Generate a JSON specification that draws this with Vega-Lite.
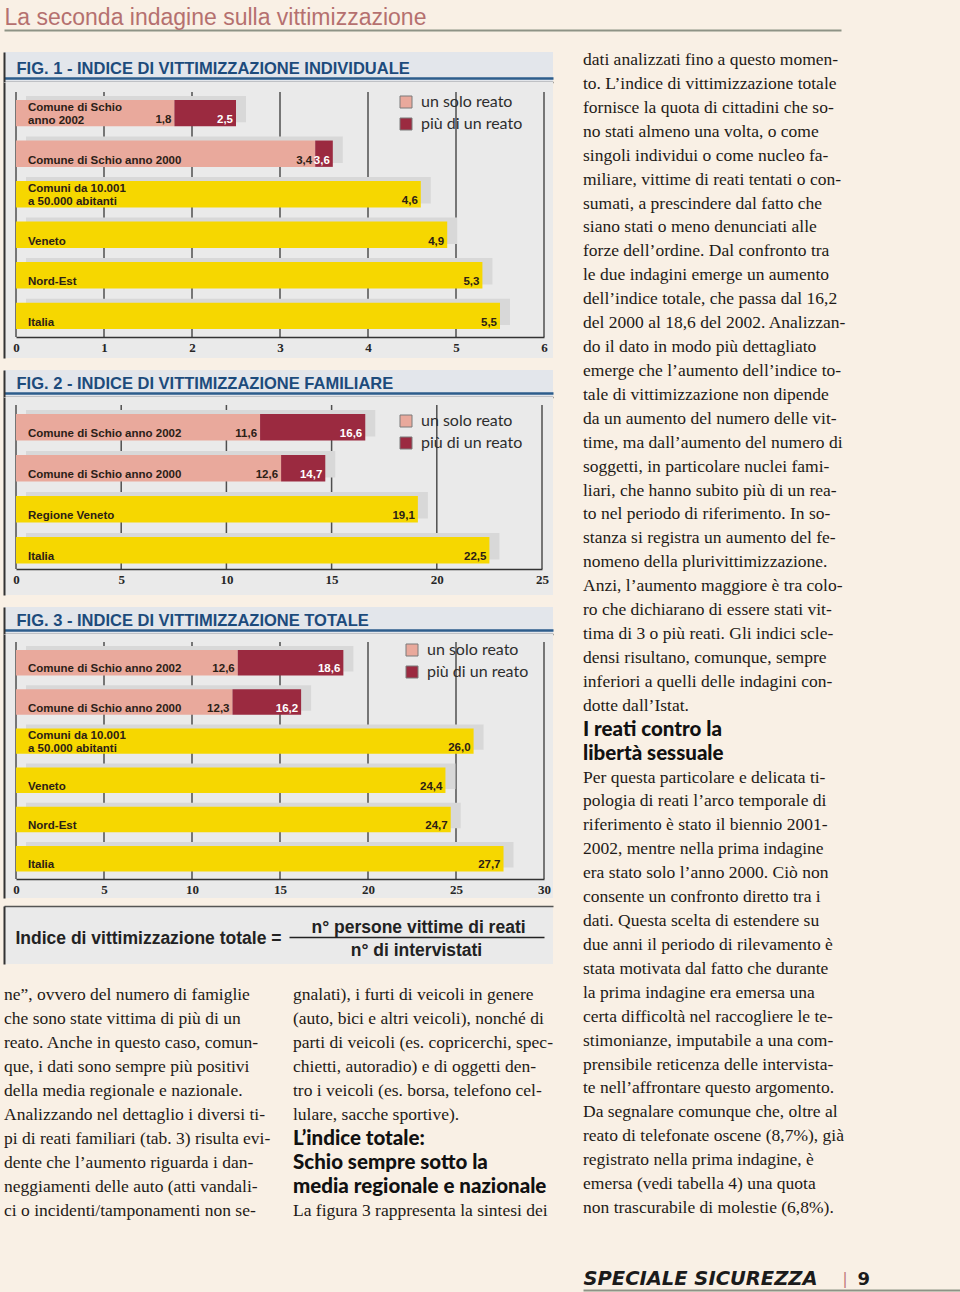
{
  "$schema": "https://vega.github.io/schema/vega-lite/v6.json",
  "background": "#f9f0e5",
  "padding": {"left": 1, "top": 0, "right": 0, "bottom": 0},
  "config": {
    "view": {"stroke": null},
    "locale": {"number": {"decimal": ",", "thousands": ".", "grouping": [3], "currency": ["€", ""]}},
    "axis": {"domainCap": "butt"}
  },
  "datasets": {
    "fig1": [
      {"area": "Comune di Schio\nanno 2002", "serie": "un solo reato", "da": 0, "a": 1.8},
      {"area": "Comune di Schio\nanno 2002", "serie": "più di un reato", "da": 1.8, "a": 2.5},
      {"area": "Comune di Schio anno 2000", "serie": "un solo reato", "da": 0, "a": 3.4},
      {"area": "Comune di Schio anno 2000", "serie": "più di un reato", "da": 3.4, "a": 3.6},
      {"area": "Comuni da 10.001\na 50.000 abitanti", "serie": "totale", "da": 0, "a": 4.6},
      {"area": "Veneto", "serie": "totale", "da": 0, "a": 4.9},
      {"area": "Nord-Est", "serie": "totale", "da": 0, "a": 5.3},
      {"area": "Italia", "serie": "totale", "da": 0, "a": 5.5}
    ],
    "fig2": [
      {"area": "Comune di Schio anno 2002", "serie": "un solo reato", "da": 0, "a": 11.6},
      {"area": "Comune di Schio anno 2002", "serie": "più di un reato", "da": 11.6, "a": 16.6},
      {"area": "Comune di Schio anno 2000", "serie": "un solo reato", "da": 0, "a": 12.6},
      {"area": "Comune di Schio anno 2000", "serie": "più di un reato", "da": 12.6, "a": 14.7},
      {"area": "Regione Veneto", "serie": "totale", "da": 0, "a": 19.1},
      {"area": "Italia", "serie": "totale", "da": 0, "a": 22.5}
    ],
    "fig3": [
      {"area": "Comune di Schio anno 2002", "serie": "un solo reato", "da": 0, "a": 12.6},
      {"area": "Comune di Schio anno 2002", "serie": "più di un reato", "da": 12.6, "a": 18.6},
      {"area": "Comune di Schio anno 2000", "serie": "un solo reato", "da": 0, "a": 12.3},
      {"area": "Comune di Schio anno 2000", "serie": "più di un reato", "da": 12.3, "a": 16.2},
      {"area": "Comuni da 10.001\na 50.000 abitanti", "serie": "totale", "da": 0, "a": 26.0},
      {"area": "Veneto", "serie": "totale", "da": 0, "a": 24.4},
      {"area": "Nord-Est", "serie": "totale", "da": 0, "a": 24.7},
      {"area": "Italia", "serie": "totale", "da": 0, "a": 27.7}
    ],
    "colonneBasse": [
      {"colonna": "sinistra", "riga": 1, "tipo": "testo", "testo": "ne”, ovvero del numero di famiglie"},
      {"colonna": "sinistra", "riga": 2, "tipo": "testo", "testo": "che sono state vittima di più di un"},
      {"colonna": "sinistra", "riga": 3, "tipo": "testo", "testo": "reato. Anche in questo caso, comun-"},
      {"colonna": "sinistra", "riga": 4, "tipo": "testo", "testo": "que, i dati sono sempre più positivi"},
      {"colonna": "sinistra", "riga": 5, "tipo": "testo", "testo": "della media regionale e nazionale."},
      {"colonna": "sinistra", "riga": 6, "tipo": "testo", "testo": "Analizzando nel dettaglio i diversi ti-"},
      {"colonna": "sinistra", "riga": 7, "tipo": "testo", "testo": "pi di reati familiari (tab. 3) risulta evi-"},
      {"colonna": "sinistra", "riga": 8, "tipo": "testo", "testo": "dente che l’aumento riguarda i dan-"},
      {"colonna": "sinistra", "riga": 9, "tipo": "testo", "testo": "neggiamenti delle auto (atti vandali-"},
      {"colonna": "sinistra", "riga": 10, "tipo": "testo", "testo": "ci o incidenti/tamponamenti non se-"},
      {"colonna": "centro", "riga": 1, "tipo": "testo", "testo": "gnalati), i furti di veicoli in genere"},
      {"colonna": "centro", "riga": 2, "tipo": "testo", "testo": "(auto, bici e altri veicoli), nonché di"},
      {"colonna": "centro", "riga": 3, "tipo": "testo", "testo": "parti di veicoli (es. copricerchi, spec-"},
      {"colonna": "centro", "riga": 4, "tipo": "testo", "testo": "chietti, autoradio) e di oggetti den-"},
      {"colonna": "centro", "riga": 5, "tipo": "testo", "testo": "tro i veicoli (es. borsa, telefono cel-"},
      {"colonna": "centro", "riga": 6, "tipo": "testo", "testo": "lulare, sacche sportive)."},
      {"colonna": "centro", "riga": 7, "tipo": "titolo", "testo": "L’indice totale:"},
      {"colonna": "centro", "riga": 8, "tipo": "titolo", "testo": "Schio sempre sotto la"},
      {"colonna": "centro", "riga": 9, "tipo": "titolo", "testo": "media regionale e nazionale"},
      {"colonna": "centro", "riga": 10, "tipo": "testo", "testo": "La figura 3 rappresenta la sintesi dei"}
    ],
    "colonnaDestra": [
      {"riga": 1, "tipo": "testo", "testo": "dati analizzati fino a questo momen-"},
      {"riga": 2, "tipo": "testo", "testo": "to. L’indice di vittimizzazione totale"},
      {"riga": 3, "tipo": "testo", "testo": "fornisce la quota di cittadini che so-"},
      {"riga": 4, "tipo": "testo", "testo": "no stati almeno una volta, o come"},
      {"riga": 5, "tipo": "testo", "testo": "singoli individui o come nucleo fa-"},
      {"riga": 6, "tipo": "testo", "testo": "miliare, vittime di reati tentati o con-"},
      {"riga": 7, "tipo": "testo", "testo": "sumati, a prescindere dal fatto che"},
      {"riga": 8, "tipo": "testo", "testo": "siano stati o meno denunciati alle"},
      {"riga": 9, "tipo": "testo", "testo": "forze dell’ordine. Dal confronto tra"},
      {"riga": 10, "tipo": "testo", "testo": "le due indagini emerge un aumento"},
      {"riga": 11, "tipo": "testo", "testo": "dell’indice totale, che passa dal 16,2"},
      {"riga": 12, "tipo": "testo", "testo": "del 2000 al 18,6 del 2002. Analizzan-"},
      {"riga": 13, "tipo": "testo", "testo": "do il dato in modo più dettagliato"},
      {"riga": 14, "tipo": "testo", "testo": "emerge che l’aumento dell’indice to-"},
      {"riga": 15, "tipo": "testo", "testo": "tale di vittimizzazione non dipende"},
      {"riga": 16, "tipo": "testo", "testo": "da un aumento del numero delle vit-"},
      {"riga": 17, "tipo": "testo", "testo": "time, ma dall’aumento del numero di"},
      {"riga": 18, "tipo": "testo", "testo": "soggetti, in particolare nuclei fami-"},
      {"riga": 19, "tipo": "testo", "testo": "liari, che hanno subito più di un rea-"},
      {"riga": 20, "tipo": "testo", "testo": "to nel periodo di riferimento. In so-"},
      {"riga": 21, "tipo": "testo", "testo": "stanza si registra un aumento del fe-"},
      {"riga": 22, "tipo": "testo", "testo": "nomeno della plurivittimizzazione."},
      {"riga": 23, "tipo": "testo", "testo": "Anzi, l’aumento maggiore è tra colo-"},
      {"riga": 24, "tipo": "testo", "testo": "ro che dichiarano di essere stati vit-"},
      {"riga": 25, "tipo": "testo", "testo": "tima di 3 o più reati. Gli indici scle-"},
      {"riga": 26, "tipo": "testo", "testo": "densi risultano, comunque, sempre"},
      {"riga": 27, "tipo": "testo", "testo": "inferiori a quelli delle indagini con-"},
      {"riga": 28, "tipo": "testo", "testo": "dotte dall’Istat."},
      {"riga": 29, "tipo": "titolo", "testo": "I reati contro la"},
      {"riga": 30, "tipo": "titolo", "testo": "libertà sessuale"},
      {"riga": 31, "tipo": "testo", "testo": "Per questa particolare e delicata ti-"},
      {"riga": 32, "tipo": "testo", "testo": "pologia di reati l’arco temporale di"},
      {"riga": 33, "tipo": "testo", "testo": "riferimento è stato il biennio 2001-"},
      {"riga": 34, "tipo": "testo", "testo": "2002, mentre nella prima indagine"},
      {"riga": 35, "tipo": "testo", "testo": "era stato solo l’anno 2000. Ciò non"},
      {"riga": 36, "tipo": "testo", "testo": "consente un confronto diretto tra i"},
      {"riga": 37, "tipo": "testo", "testo": "dati. Questa scelta di estendere su"},
      {"riga": 38, "tipo": "testo", "testo": "due anni il periodo di rilevamento è"},
      {"riga": 39, "tipo": "testo", "testo": "stata motivata dal fatto che durante"},
      {"riga": 40, "tipo": "testo", "testo": "la prima indagine era emersa una"},
      {"riga": 41, "tipo": "testo", "testo": "certa difficoltà nel raccogliere le te-"},
      {"riga": 42, "tipo": "testo", "testo": "stimonianze, imputabile a una com-"},
      {"riga": 43, "tipo": "testo", "testo": "prensibile reticenza delle intervista-"},
      {"riga": 44, "tipo": "testo", "testo": "te nell’affrontare questo argomento."},
      {"riga": 45, "tipo": "testo", "testo": "Da segnalare comunque che, oltre al"},
      {"riga": 46, "tipo": "testo", "testo": "reato di telefonate oscene (8,7%), già"},
      {"riga": 47, "tipo": "testo", "testo": "registrato nella prima indagine, è"},
      {"riga": 48, "tipo": "testo", "testo": "emersa (vedi tabella 4) una quota"},
      {"riga": 49, "tipo": "testo", "testo": "non trascurabile di molestie (6,8%)."}
    ]
  },
  "spacing": 21,
  "resolve": {"scale": {"color": "independent"}, "legend": {"color": "independent"}},
  "vconcat": [
    {
      "width": 837, "height": 30,
      "data": {"values": [{}]},
      "mark": {"type": "point", "opacity": 0},
      "encoding": {
        "x": {"datum": 0, "type": "quantitative", "scale": {"domain": [0, 1]},
          "axis": {"orient": "bottom", "domain": true, "domainColor": "#8e9386", "domainWidth": 2, "ticks": false, "labels": false, "grid": false,
            "title": "La seconda indagine sulla vittimizzazione", "titleX": 0, "titleY": -6, "titleAlign": "left", "titleBaseline": "alphabetic",
            "titleFont": "Liberation Sans", "titleFontSize": 23, "titleFontWeight": "normal", "titleColor": "#b5706f"}}
      }
    },
    {
      "spacing": 27,
      "resolve": {"scale": {"color": "independent"}, "legend": {"color": "independent"}},
      "hconcat": [
        {
          "spacing": 12,
          "resolve": {"scale": {"color": "independent"}, "legend": {"color": "independent"}},
          "vconcat": [
            {
              "spacing": 0, "bounds": "flush",
              "resolve": {"scale": {"color": "independent"}, "legend": {"color": "independent"}},
              "vconcat": [
                {
                  "width": 549, "height": 30,
                  "view": {"fill": "#e3e6eb", "stroke": null},
                  "data": {"values": [{}]},
                  "resolve": {"scale": {"x": "independent"}, "axis": {"x": "independent"}},
                  "layer": [
                    {"mark": {"type": "point", "opacity": 0},
                     "encoding": {
                       "x": {"datum": 0, "type": "quantitative", "scale": {"domain": [0, 1]},
                         "axis": {"orient": "bottom", "offset": -4, "domainColor": "#2d5d8c", "domainWidth": 2.5, "ticks": false, "labels": false, "grid": false,
                           "title": "FIG. 1 - INDICE DI VITTIMIZZAZIONE INDIVIDUALE", "titleX": 12, "titleY": -5, "titleAlign": "left", "titleBaseline": "alphabetic",
                           "titleFont": "Liberation Sans", "titleFontSize": 16.5, "titleFontWeight": "bold", "titleColor": "#1d4b7c"}},
                       "y": {"datum": 0, "type": "quantitative", "scale": {"domain": [0, 1]},
                         "axis": {"orient": "left", "domainColor": "#333333", "domainWidth": 2, "ticks": false, "labels": false, "grid": false, "title": null}}
                     }},
                    {"mark": {"type": "point", "opacity": 0},
                     "encoding": {
                       "x": {"datum": 0, "type": "quantitative", "scale": {"domain": [0, 1]},
                         "axis": {"orient": "bottom", "domainColor": "#555555", "domainWidth": 1.5, "ticks": false, "labels": false, "grid": false, "title": null}}
                     }}
                  ]
                },
                {
                  "width": 549, "height": 276,
                  "view": {"fill": "#eaeaea", "stroke": null},
                  "data": {"name": "fig1"},
                  "resolve": {"scale": {"y": "independent"}, "axis": {"y": "independent"}},
                  "layer": [
                    {
                      "data": {"values": [{"t": 0}, {"t": 1}, {"t": 2}, {"t": 3}, {"t": 4}, {"t": 5}, {"t": 6}]},
                      "mark": {"type": "rule", "color": "#4f4f4f", "strokeWidth": 1.5},
                      "encoding": {
                        "x": {"field": "t", "type": "quantitative", "scale": {"domain": [0, 6], "range": [12, 540], "nice": false, "zero": false}},
                        "y": {"datum": 0, "type": "quantitative", "scale": {"domain": [0, 1], "range": [255, 10]}, "axis": null},
                        "y2": {"datum": 1}
                      }
                    },
                    {
                      "transform": [{"filter": "datum.serie !== 'un solo reato'"}],
                      "mark": {"type": "bar", "color": "#d8d8d8", "xOffset": 10, "x2Offset": 10, "yOffset": -4},
                      "encoding": {
                        "x": {"field": "a", "type": "quantitative", "scale": {"domain": [0, 6], "range": [12, 540], "nice": false, "zero": false}},
                        "y": {"field": "area", "type": "nominal", "sort": null, "scale": {"type": "band", "domain": ["Comune di Schio\nanno 2002", "Comune di Schio anno 2000", "Comuni da 10.001\na 50.000 abitanti", "Veneto", "Nord-Est", "Italia"], "paddingInner": 0.35, "paddingOuter": 0.58, "align": 0.383}, "axis": null}
                      }
                    },
                    {
                      "mark": {"type": "bar"},
                      "encoding": {
                        "x": {"field": "da", "type": "quantitative", "scale": {"domain": [0, 6], "range": [12, 540], "nice": false, "zero": false},
                          "axis": {"orient": "bottom", "offset": -21, "values": [0, 1, 2, 3, 4, 5, 6], "format": "d", "domain": true, "labels": true, "domainColor": "#333333", "domainWidth": 1.5, "ticks": false, "grid": false, "title": null, "zindex": 1,
                            "labelFont": "Liberation Serif", "labelFontSize": 13, "labelFontWeight": "bold", "labelColor": "#262626", "labelPadding": 4, "labelFlush": false, "labelOverlap": false}},
                        "x2": {"field": "a"},
                        "y": {"field": "area", "type": "nominal", "sort": null, "scale": {"type": "band", "domain": ["Comune di Schio\nanno 2002", "Comune di Schio anno 2000", "Comuni da 10.001\na 50.000 abitanti", "Veneto", "Nord-Est", "Italia"], "paddingInner": 0.35, "paddingOuter": 0.58, "align": 0.383},
                          "axis": {"orient": "left", "domain": true, "domainColor": "#333333", "domainWidth": 2, "ticks": false, "labels": false, "grid": false, "title": null, "zindex": 1}},
                        "color": {"field": "serie", "type": "nominal",
                          "scale": {"domain": ["un solo reato", "più di un reato", "totale"], "range": ["#e9a99c", "#9b2a40", "#f6d700"]},
                          "legend": {"values": ["un solo reato", "più di un reato"], "title": null, "orient": "none", "legendX": 394, "legendY": 12,
                            "symbolType": "square", "symbolSize": 144, "symbolStrokeColor": "#7a7a7a", "symbolStrokeWidth": 1, "symbolOpacity": 1,
                            "labelFont": "Lato", "labelFontSize": 16, "labelColor": "#2e2e2e", "labelOffset": 7, "rowPadding": 6,
                            "encode": {"symbols": {"update": {"stroke": {"value": "#7a7a7a"}, "strokeWidth": {"value": 1}}}}}}
                      }
                    },
                    {
                      "transform": [{"filter": "datum.da === 0 && indexof(datum.area, '\\n') < 0"}],
                      "mark": {"type": "text", "align": "left", "baseline": "bottom", "dx": 12, "dy": -1, "font": "Liberation Sans", "fontSize": 11.5, "fontWeight": "bold", "color": "#2b2016"},
                      "encoding": {
                        "x": {"field": "da", "type": "quantitative", "scale": {"domain": [0, 6], "range": [12, 540], "nice": false, "zero": false}},
                        "y": {"field": "area", "type": "nominal", "sort": null, "bandPosition": 1, "scale": {"type": "band", "domain": ["Comune di Schio\nanno 2002", "Comune di Schio anno 2000", "Comuni da 10.001\na 50.000 abitanti", "Veneto", "Nord-Est", "Italia"], "paddingInner": 0.35, "paddingOuter": 0.58, "align": 0.383}, "axis": null},
                        "text": {"field": "area"}
                      }
                    },
                    {
                      "transform": [{"filter": "datum.da === 0 && indexof(datum.area, '\\n') >= 0"}],
                      "mark": {"type": "text", "align": "left", "baseline": "bottom", "dx": 12, "dy": -13, "lineBreak": "\n", "lineHeight": 13, "font": "Liberation Sans", "fontSize": 11.5, "fontWeight": "bold", "color": "#2b2016"},
                      "encoding": {
                        "x": {"field": "da", "type": "quantitative", "scale": {"domain": [0, 6], "range": [12, 540], "nice": false, "zero": false}},
                        "y": {"field": "area", "type": "nominal", "sort": null, "bandPosition": 1, "scale": {"type": "band", "domain": ["Comune di Schio\nanno 2002", "Comune di Schio anno 2000", "Comuni da 10.001\na 50.000 abitanti", "Veneto", "Nord-Est", "Italia"], "paddingInner": 0.35, "paddingOuter": 0.58, "align": 0.383}, "axis": null},
                        "text": {"field": "area"}
                      }
                    },
                    {
                      "mark": {"type": "text", "align": "right", "baseline": "bottom", "dx": -3, "dy": -1, "font": "Liberation Sans", "fontSize": 11.5, "fontWeight": "bold"},
                      "encoding": {
                        "x": {"field": "a", "type": "quantitative", "scale": {"domain": [0, 6], "range": [12, 540], "nice": false, "zero": false}},
                        "y": {"field": "area", "type": "nominal", "sort": null, "bandPosition": 1, "scale": {"type": "band", "domain": ["Comune di Schio\nanno 2002", "Comune di Schio anno 2000", "Comuni da 10.001\na 50.000 abitanti", "Veneto", "Nord-Est", "Italia"], "paddingInner": 0.35, "paddingOuter": 0.58, "align": 0.383}, "axis": null},
                        "text": {"field": "a", "type": "quantitative", "format": ".1f"},
                        "color": {"condition": {"test": "datum.serie === 'più di un reato'", "value": "#ffffff"}, "value": "#2b2016"}
                      }
                    }
                  ]
                }
              ]
            },
            {
              "spacing": 0, "bounds": "flush",
              "resolve": {"scale": {"color": "independent"}, "legend": {"color": "independent"}},
              "vconcat": [
                {
                  "width": 549, "height": 27,
                  "view": {"fill": "#e3e6eb", "stroke": null},
                  "data": {"values": [{}]},
                  "resolve": {"scale": {"x": "independent"}, "axis": {"x": "independent"}},
                  "layer": [
                    {"mark": {"type": "point", "opacity": 0},
                     "encoding": {
                       "x": {"datum": 0, "type": "quantitative", "scale": {"domain": [0, 1]},
                         "axis": {"orient": "bottom", "offset": -4, "domainColor": "#2d5d8c", "domainWidth": 2.5, "ticks": false, "labels": false, "grid": false,
                           "title": "FIG. 2 - INDICE DI VITTIMIZZAZIONE FAMILIARE", "titleX": 12, "titleY": -5, "titleAlign": "left", "titleBaseline": "alphabetic",
                           "titleFont": "Liberation Sans", "titleFontSize": 16.5, "titleFontWeight": "bold", "titleColor": "#1d4b7c"}},
                       "y": {"datum": 0, "type": "quantitative", "scale": {"domain": [0, 1]},
                         "axis": {"orient": "left", "domainColor": "#333333", "domainWidth": 2, "ticks": false, "labels": false, "grid": false, "title": null}}
                     }},
                    {"mark": {"type": "point", "opacity": 0},
                     "encoding": {
                       "x": {"datum": 0, "type": "quantitative", "scale": {"domain": [0, 1]},
                         "axis": {"orient": "bottom", "domainColor": "#555555", "domainWidth": 1.5, "ticks": false, "labels": false, "grid": false, "title": null}}
                     }}
                  ]
                },
                {
                  "width": 549, "height": 198,
                  "view": {"fill": "#eaeaea", "stroke": null},
                  "data": {"name": "fig2"},
                  "resolve": {"scale": {"y": "independent"}, "axis": {"y": "independent"}},
                  "layer": [
                    {
                      "data": {"values": [{"t": 0}, {"t": 5}, {"t": 10}, {"t": 15}, {"t": 20}, {"t": 25}]},
                      "mark": {"type": "rule", "color": "#4f4f4f", "strokeWidth": 1.5},
                      "encoding": {
                        "x": {"field": "t", "type": "quantitative", "scale": {"domain": [0, 25], "range": [12, 538], "nice": false, "zero": false}},
                        "y": {"datum": 0, "type": "quantitative", "scale": {"domain": [0, 1], "range": [172, 8]}, "axis": null},
                        "y2": {"datum": 1}
                      }
                    },
                    {
                      "transform": [{"filter": "datum.serie !== 'un solo reato'"}],
                      "mark": {"type": "bar", "color": "#d8d8d8", "xOffset": 10, "x2Offset": 10, "yOffset": -4},
                      "encoding": {
                        "x": {"field": "a", "type": "quantitative", "scale": {"domain": [0, 25], "range": [12, 538], "nice": false, "zero": false}},
                        "y": {"field": "area", "type": "nominal", "sort": null, "scale": {"type": "band", "domain": ["Comune di Schio anno 2002", "Comune di Schio anno 2000", "Regione Veneto", "Italia"], "paddingInner": 0.354, "paddingOuter": 0.591, "align": 0.35}, "axis": null}
                      }
                    },
                    {
                      "mark": {"type": "bar"},
                      "encoding": {
                        "x": {"field": "da", "type": "quantitative", "scale": {"domain": [0, 25], "range": [12, 538], "nice": false, "zero": false},
                          "axis": {"orient": "bottom", "offset": -26, "values": [0, 5, 10, 15, 20, 25], "format": "d", "domain": true, "labels": true, "domainColor": "#333333", "domainWidth": 1.5, "ticks": false, "grid": false, "title": null, "zindex": 1,
                            "labelFont": "Liberation Serif", "labelFontSize": 13, "labelFontWeight": "bold", "labelColor": "#262626", "labelPadding": 4, "labelFlush": false, "labelOverlap": false}},
                        "x2": {"field": "a"},
                        "y": {"field": "area", "type": "nominal", "sort": null, "scale": {"type": "band", "domain": ["Comune di Schio anno 2002", "Comune di Schio anno 2000", "Regione Veneto", "Italia"], "paddingInner": 0.354, "paddingOuter": 0.591, "align": 0.35},
                          "axis": {"orient": "left", "domain": true, "domainColor": "#333333", "domainWidth": 2, "ticks": false, "labels": false, "grid": false, "title": null, "zindex": 1}},
                        "color": {"field": "serie", "type": "nominal",
                          "scale": {"domain": ["un solo reato", "più di un reato", "totale"], "range": ["#e9a99c", "#9b2a40", "#f6d700"]},
                          "legend": {"values": ["un solo reato", "più di un reato"], "title": null, "orient": "none", "legendX": 394, "legendY": 16,
                            "symbolType": "square", "symbolSize": 144, "symbolStrokeColor": "#7a7a7a", "symbolStrokeWidth": 1, "symbolOpacity": 1,
                            "labelFont": "Lato", "labelFontSize": 16, "labelColor": "#2e2e2e", "labelOffset": 7, "rowPadding": 6,
                            "encode": {"symbols": {"update": {"stroke": {"value": "#7a7a7a"}, "strokeWidth": {"value": 1}}}}}}
                      }
                    },
                    {
                      "transform": [{"filter": "datum.da === 0"}],
                      "mark": {"type": "text", "align": "left", "baseline": "bottom", "dx": 12, "dy": -1, "font": "Liberation Sans", "fontSize": 11.5, "fontWeight": "bold", "color": "#2b2016"},
                      "encoding": {
                        "x": {"field": "da", "type": "quantitative", "scale": {"domain": [0, 25], "range": [12, 538], "nice": false, "zero": false}},
                        "y": {"field": "area", "type": "nominal", "sort": null, "bandPosition": 1, "scale": {"type": "band", "domain": ["Comune di Schio anno 2002", "Comune di Schio anno 2000", "Regione Veneto", "Italia"], "paddingInner": 0.354, "paddingOuter": 0.591, "align": 0.35}, "axis": null},
                        "text": {"field": "area"}
                      }
                    },
                    {
                      "mark": {"type": "text", "align": "right", "baseline": "bottom", "dx": -3, "dy": -1, "font": "Liberation Sans", "fontSize": 11.5, "fontWeight": "bold"},
                      "encoding": {
                        "x": {"field": "a", "type": "quantitative", "scale": {"domain": [0, 25], "range": [12, 538], "nice": false, "zero": false}},
                        "y": {"field": "area", "type": "nominal", "sort": null, "bandPosition": 1, "scale": {"type": "band", "domain": ["Comune di Schio anno 2002", "Comune di Schio anno 2000", "Regione Veneto", "Italia"], "paddingInner": 0.354, "paddingOuter": 0.591, "align": 0.35}, "axis": null},
                        "text": {"field": "a", "type": "quantitative", "format": ".1f"},
                        "color": {"condition": {"test": "datum.serie === 'più di un reato'", "value": "#ffffff"}, "value": "#2b2016"}
                      }
                    }
                  ]
                }
              ]
            },
            {
              "spacing": 8,
              "resolve": {"scale": {"color": "independent"}, "legend": {"color": "independent"}},
              "vconcat": [
                {
                  "spacing": 0, "bounds": "flush",
                  "resolve": {"scale": {"color": "independent"}, "legend": {"color": "independent"}},
                  "vconcat": [
                    {
                      "width": 549, "height": 27,
                      "view": {"fill": "#e3e6eb", "stroke": null},
                      "data": {"values": [{}]},
                      "resolve": {"scale": {"x": "independent"}, "axis": {"x": "independent"}},
                      "layer": [
                        {"mark": {"type": "point", "opacity": 0},
                         "encoding": {
                           "x": {"datum": 0, "type": "quantitative", "scale": {"domain": [0, 1]},
                             "axis": {"orient": "bottom", "offset": -4, "domainColor": "#2d5d8c", "domainWidth": 2.5, "ticks": false, "labels": false, "grid": false,
                               "title": "FIG. 3 - INDICE DI VITTIMIZZAZIONE TOTALE", "titleX": 12, "titleY": -5, "titleAlign": "left", "titleBaseline": "alphabetic",
                               "titleFont": "Liberation Sans", "titleFontSize": 16.5, "titleFontWeight": "bold", "titleColor": "#1d4b7c"}},
                           "y": {"datum": 0, "type": "quantitative", "scale": {"domain": [0, 1]},
                             "axis": {"orient": "left", "domainColor": "#333333", "domainWidth": 2, "ticks": false, "labels": false, "grid": false, "title": null}}
                         }},
                        {"mark": {"type": "point", "opacity": 0},
                         "encoding": {
                           "x": {"datum": 0, "type": "quantitative", "scale": {"domain": [0, 1]},
                             "axis": {"orient": "bottom", "domainColor": "#555555", "domainWidth": 1.5, "ticks": false, "labels": false, "grid": false, "title": null}}
                         }}
                      ]
                    },
                    {
                      "width": 549, "height": 264,
                      "view": {"fill": "#eaeaea", "stroke": null},
                      "data": {"name": "fig3"},
                      "resolve": {"scale": {"y": "independent"}, "axis": {"y": "independent"}},
                      "layer": [
                        {
                          "data": {"values": [{"t": 0}, {"t": 5}, {"t": 10}, {"t": 15}, {"t": 20}, {"t": 25}, {"t": 30}]},
                          "mark": {"type": "rule", "color": "#4f4f4f", "strokeWidth": 1.5},
                          "encoding": {
                            "x": {"field": "t", "type": "quantitative", "scale": {"domain": [0, 30], "range": [12, 540], "nice": false, "zero": false}},
                            "y": {"datum": 0, "type": "quantitative", "scale": {"domain": [0, 1], "range": [245, 8]}, "axis": null},
                            "y2": {"datum": 1}
                          }
                        },
                        {
                          "transform": [{"filter": "datum.serie !== 'un solo reato'"}],
                          "mark": {"type": "bar", "color": "#d8d8d8", "xOffset": 10, "x2Offset": 10, "yOffset": -4},
                          "encoding": {
                            "x": {"field": "a", "type": "quantitative", "scale": {"domain": [0, 30], "range": [12, 540], "nice": false, "zero": false}},
                            "y": {"field": "area", "type": "nominal", "sort": null, "scale": {"type": "band", "domain": ["Comune di Schio anno 2002", "Comune di Schio anno 2000", "Comuni da 10.001\na 50.000 abitanti", "Veneto", "Nord-Est", "Italia"], "paddingInner": 0.35, "paddingOuter": 0.542, "align": 0.376}, "axis": null}
                          }
                        },
                        {
                          "mark": {"type": "bar"},
                          "encoding": {
                            "x": {"field": "da", "type": "quantitative", "scale": {"domain": [0, 30], "range": [12, 540], "nice": false, "zero": false},
                              "axis": {"orient": "bottom", "offset": -19, "values": [0, 5, 10, 15, 20, 25, 30], "format": "d", "domain": true, "labels": true, "domainColor": "#333333", "domainWidth": 1.5, "ticks": false, "grid": false, "title": null, "zindex": 1,
                                "labelFont": "Liberation Serif", "labelFontSize": 13, "labelFontWeight": "bold", "labelColor": "#262626", "labelPadding": 4, "labelFlush": false, "labelOverlap": false}},
                            "x2": {"field": "a"},
                            "y": {"field": "area", "type": "nominal", "sort": null, "scale": {"type": "band", "domain": ["Comune di Schio anno 2002", "Comune di Schio anno 2000", "Comuni da 10.001\na 50.000 abitanti", "Veneto", "Nord-Est", "Italia"], "paddingInner": 0.35, "paddingOuter": 0.542, "align": 0.376},
                              "axis": {"orient": "left", "domain": true, "domainColor": "#333333", "domainWidth": 2, "ticks": false, "labels": false, "grid": false, "title": null, "zindex": 1}},
                            "color": {"field": "serie", "type": "nominal",
                              "scale": {"domain": ["un solo reato", "più di un reato", "totale"], "range": ["#e9a99c", "#9b2a40", "#f6d700"]},
                              "legend": {"values": ["un solo reato", "più di un reato"], "title": null, "orient": "none", "legendX": 400, "legendY": 8,
                                "symbolType": "square", "symbolSize": 144, "symbolStrokeColor": "#7a7a7a", "symbolStrokeWidth": 1, "symbolOpacity": 1,
                                "labelFont": "Lato", "labelFontSize": 16, "labelColor": "#2e2e2e", "labelOffset": 7, "rowPadding": 6,
                                "encode": {"symbols": {"update": {"stroke": {"value": "#7a7a7a"}, "strokeWidth": {"value": 1}}}}}}
                          }
                        },
                        {
                          "transform": [{"filter": "datum.da === 0 && indexof(datum.area, '\\n') < 0"}],
                          "mark": {"type": "text", "align": "left", "baseline": "bottom", "dx": 12, "dy": -1, "font": "Liberation Sans", "fontSize": 11.5, "fontWeight": "bold", "color": "#2b2016"},
                          "encoding": {
                            "x": {"field": "da", "type": "quantitative", "scale": {"domain": [0, 30], "range": [12, 540], "nice": false, "zero": false}},
                            "y": {"field": "area", "type": "nominal", "sort": null, "bandPosition": 1, "scale": {"type": "band", "domain": ["Comune di Schio anno 2002", "Comune di Schio anno 2000", "Comuni da 10.001\na 50.000 abitanti", "Veneto", "Nord-Est", "Italia"], "paddingInner": 0.35, "paddingOuter": 0.542, "align": 0.376}, "axis": null},
                            "text": {"field": "area"}
                          }
                        },
                        {
                          "transform": [{"filter": "datum.da === 0 && indexof(datum.area, '\\n') >= 0"}],
                          "mark": {"type": "text", "align": "left", "baseline": "bottom", "dx": 12, "dy": -13, "lineBreak": "\n", "lineHeight": 13, "font": "Liberation Sans", "fontSize": 11.5, "fontWeight": "bold", "color": "#2b2016"},
                          "encoding": {
                            "x": {"field": "da", "type": "quantitative", "scale": {"domain": [0, 30], "range": [12, 540], "nice": false, "zero": false}},
                            "y": {"field": "area", "type": "nominal", "sort": null, "bandPosition": 1, "scale": {"type": "band", "domain": ["Comune di Schio anno 2002", "Comune di Schio anno 2000", "Comuni da 10.001\na 50.000 abitanti", "Veneto", "Nord-Est", "Italia"], "paddingInner": 0.35, "paddingOuter": 0.542, "align": 0.376}, "axis": null},
                            "text": {"field": "area"}
                          }
                        },
                        {
                          "mark": {"type": "text", "align": "right", "baseline": "bottom", "dx": -3, "dy": -1, "font": "Liberation Sans", "fontSize": 11.5, "fontWeight": "bold"},
                          "encoding": {
                            "x": {"field": "a", "type": "quantitative", "scale": {"domain": [0, 30], "range": [12, 540], "nice": false, "zero": false}},
                            "y": {"field": "area", "type": "nominal", "sort": null, "bandPosition": 1, "scale": {"type": "band", "domain": ["Comune di Schio anno 2002", "Comune di Schio anno 2000", "Comuni da 10.001\na 50.000 abitanti", "Veneto", "Nord-Est", "Italia"], "paddingInner": 0.35, "paddingOuter": 0.542, "align": 0.376}, "axis": null},
                            "text": {"field": "a", "type": "quantitative", "format": ".1f"},
                            "color": {"condition": {"test": "datum.serie === 'più di un reato'", "value": "#ffffff"}, "value": "#2b2016"}
                          }
                        }
                      ]
                    }
                  ]
                },
                {
                  "width": 549, "height": 58,
                  "view": {"fill": "#eaeaea", "stroke": null},
                  "data": {"values": [{}]},
                  "resolve": {"scale": {"x": "independent"}, "axis": {"x": "independent"}},
                  "layer": [
                    {"mark": {"type": "point", "opacity": 0},
                     "encoding": {
                       "x": {"datum": 0, "type": "quantitative", "scale": {"domain": [0, 1], "range": [285, 540]},
                         "axis": {"orient": "bottom", "offset": -27, "domainColor": "#222222", "domainWidth": 1.5, "ticks": false, "labels": false, "grid": false,
                           "title": "n° di intervistati", "titleX": 412, "titleY": 18, "titleAlign": "center", "titleBaseline": "alphabetic",
                           "titleFont": "Liberation Sans", "titleFontSize": 17.5, "titleFontWeight": "bold", "titleColor": "#222222"}},
                       "y": {"datum": 0, "type": "quantitative", "scale": {"domain": [0, 1]},
                         "axis": {"orient": "left", "domainColor": "#333333", "domainWidth": 2, "ticks": false, "labels": false, "grid": false,
                           "title": "Indice di vittimizzazione totale =", "titleAngle": 0, "titleX": 11, "titleY": 37, "titleAlign": "left", "titleBaseline": "alphabetic",
                           "titleFont": "Liberation Sans", "titleFontSize": 17.5, "titleFontWeight": "bold", "titleColor": "#222222"}}
                     }},
                    {"mark": {"type": "point", "opacity": 0},
                     "encoding": {
                       "x": {"datum": 0, "type": "quantitative", "scale": {"domain": [0, 1]},
                         "axis": {"orient": "top", "domainColor": "#555555", "domainWidth": 1.5, "ticks": false, "labels": false, "grid": false,
                           "title": "n° persone vittime di reati", "titleX": 414, "titleY": 26, "titleAlign": "center", "titleBaseline": "alphabetic",
                           "titleFont": "Liberation Sans", "titleFontSize": 17.5, "titleFontWeight": "bold", "titleColor": "#222222"}}
                     }}
                  ]
                }
              ]
            },
            {
              "width": 549, "height": 250,
              "data": {"name": "colonneBasse"},
              "encoding": {
                "x": {"field": "colonna", "type": "nominal", "scale": {"type": "point", "domain": ["sinistra", "centro"], "range": [0, 289], "padding": 0}, "axis": null},
                "y": {"field": "riga", "type": "quantitative", "scale": {"domain": [1, 10], "range": [16, 232]}, "axis": null},
                "text": {"field": "testo"}
              },
              "layer": [
                {"transform": [{"filter": "datum.tipo === 'testo'"}],
                 "mark": {"type": "text", "align": "left", "baseline": "middle", "font": "Liberation Serif", "fontSize": 17.5, "color": "#1e1a16"}},
                {"transform": [{"filter": "datum.tipo === 'titolo'"}],
                 "mark": {"type": "text", "align": "left", "baseline": "middle", "font": "Lato", "fontWeight": 900, "fontSize": 20.5, "color": "#111111"}}
              ]
            }
          ]
        },
        {
          "spacing": 0,
          "bounds": "flush",
          "vconcat": [
            {
              "width": 262, "height": 1168,
              "data": {"name": "colonnaDestra"},
              "encoding": {
                "x": {"datum": 0, "type": "quantitative", "scale": {"domain": [0, 1]}, "axis": null},
                "y": {"field": "riga", "type": "quantitative", "scale": {"domain": [1, 49], "range": [8, 1156]}, "axis": null},
                "text": {"field": "testo"}
              },
              "layer": [
                {"transform": [{"filter": "datum.tipo === 'testo'"}],
                 "mark": {"type": "text", "align": "left", "baseline": "middle", "font": "Liberation Serif", "fontSize": 17.5, "color": "#1e1a16"}},
                {"transform": [{"filter": "datum.tipo === 'titolo'"}],
                 "mark": {"type": "text", "align": "left", "baseline": "middle", "font": "Lato", "fontWeight": 900, "fontSize": 20.5, "color": "#111111"}}
              ]
            },
            {
              "width": 379, "height": 70,
              "data": {"values": [{}]},
              "resolve": {"scale": {"y": "independent"}, "axis": {"y": "independent"}},
              "layer": [
                {"mark": {"type": "point", "opacity": 0},
                 "encoding": {
                   "x": {"datum": 0, "type": "quantitative", "scale": {"domain": [0, 1]},
                     "axis": {"orient": "bottom", "domainColor": "#8e9386", "domainWidth": 2, "ticks": false, "labels": false, "grid": false,
                       "title": "SPECIALE SICUREZZA", "titleX": 0, "titleY": -6, "titleAlign": "left", "titleBaseline": "alphabetic",
                       "titleFont": "DejaVu Sans", "titleFontSize": 19.5, "titleFontWeight": "bold", "titleFontStyle": "italic", "titleColor": "#1b1b1b"}},
                   "y": {"datum": 0, "type": "quantitative", "scale": {"domain": [0, 1]},
                     "axis": {"orient": "left", "domain": false, "ticks": false, "labels": false, "grid": false,
                       "title": "9", "titleAngle": 0, "titleX": 274, "titleY": 64, "titleAlign": "left", "titleBaseline": "alphabetic",
                       "titleFont": "DejaVu Sans", "titleFontSize": 18, "titleFontWeight": "bold", "titleColor": "#1b1b1b"}}
                 }},
                {"mark": {"type": "point", "opacity": 0},
                 "encoding": {
                   "y": {"datum": 0, "type": "quantitative", "scale": {"domain": [0, 1]},
                     "axis": {"orient": "left", "domain": false, "ticks": false, "labels": false, "grid": false,
                       "title": "|", "titleAngle": 0, "titleX": 259, "titleY": 63, "titleAlign": "left", "titleBaseline": "alphabetic",
                       "titleFont": "DejaVu Sans", "titleFontSize": 15, "titleFontWeight": "normal", "titleColor": "#c0797a"}}
                 }}
              ]
            }
          ]
        }
      ]
    }
  ]
}
